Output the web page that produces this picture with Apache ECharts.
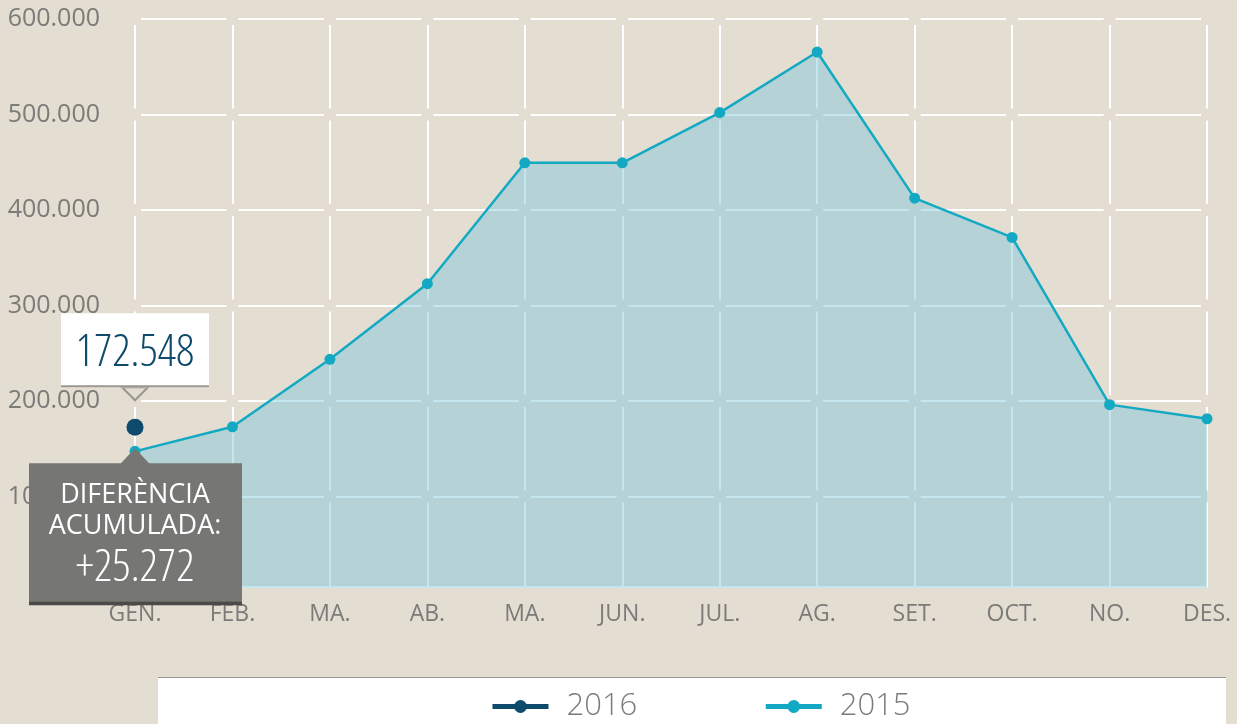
<!DOCTYPE html>
<html>
<head>
<meta charset="utf-8">
<script src="https://cdn.jsdelivr.net/npm/echarts@6/dist/echarts.min.js"></script>
<style>
html, body { margin: 0; padding: 0; background: #e3ddd2; }
#main { width: 1237px; height: 724px; }
</style>
</head>
<body>
<div id="main"></div>
<script>
var months = ['GEN.', 'FEB.', 'MA.', 'AB.', 'MA.', 'JUN.', 'JUL.', 'AG.', 'SET.', 'OCT.', 'NO.', 'DES.'];
var values2016 = [172548, null, null, null, null, null, null, null, null, null, null, null];
var values2015 = [147276, 173000, 243700, 322800, 449400, 449400, 502000, 565400, 412400, 371300, 196200, 181400];
var diffLabel = ['DIFERÈNCIA', 'ACUMULADA:'];
var diffValue = '+25.272';

function fmt(v) {
    return String(v).replace(/\B(?=(\d{3})+(?!\d))/g, '.');
}

var chart = echarts.init(document.getElementById('main'));
var gridLeft = 135, gridRight = 30, gridTop = 19, gridBottom = 132;
var colW = (1237 - gridLeft - gridRight) / (months.length - 1);
var rowH = (724 - gridTop - gridBottom) / 6;
var gap = 12;
var bg = '#e3ddd2';

chart.setOption({
    backgroundColor: bg,
    animation: false,
    grid: { left: gridLeft, right: gridRight, top: gridTop, bottom: gridBottom },
    legend: {
        left: 485,
        top: 686,
        itemWidth: 56,
        itemHeight: 16,
        itemGap: 126,
        lineStyle: { width: 5 },
        textStyle: { color: '#7b7b78', fontSize: 31, fontFamily: 'Open Sans', fontWeight: 300, padding: [0, 0, 0, 13] },
        data: ['2016', '2015']
    },
    xAxis: {
        type: 'category',
        data: months,
        boundaryGap: false,
        offset: -5,
        axisLine: { show: true, lineStyle: { color: '#ffffff', width: 2 } },
        axisTick: { show: false },
        axisLabel: { color: '#7b7b78', fontSize: 23, fontFamily: 'Open Sans', margin: 16 },
        splitLine: {
            show: true,
            lineStyle: { color: '#ffffff', width: 2, type: [rowH - gap, gap], dashOffset: rowH - gap / 2 }
        }
    },
    yAxis: {
        type: 'value',
        min: 0,
        max: 600000,
        interval: 100000,
        axisLine: { show: false },
        axisTick: { show: false },
        axisLabel: {
            color: '#7b7b78', fontSize: 25, fontFamily: 'Open Sans', margin: 35,
            formatter: function (v) { return v === 0 ? '' : fmt(v); }
        },
        splitLine: {
            show: true,
            lineStyle: { color: '#ffffff', width: 2, type: [colW - gap, gap], dashOffset: colW - gap / 2 }
        }
    },
    series: [
        {
            name: '2015',
            type: 'line',
            data: values2015,
            symbol: 'circle',
            symbolSize: 11,
            z: 2,
            itemStyle: { color: '#14a9c2' },
            lineStyle: { color: '#14a9c2', width: 2.5 },
            areaStyle: { color: 'rgba(124,199,219,0.45)', opacity: 1 }
        },
        {
            name: '2016',
            type: 'line',
            data: values2016,
            symbol: 'circle',
            symbolSize: 17,
            z: 3,
            itemStyle: { color: '#0d4a6b' },
            lineStyle: { color: '#0d4a6b', width: 2.5 }
        }
    ]
});

// callouts anchored to the first month
var p16 = chart.convertToPixel({ xAxisIndex: 0, yAxisIndex: 0 }, [0, values2016[0]]);
var p15 = chart.convertToPixel({ xAxisIndex: 0, yAxisIndex: 0 }, [0, values2015[0]]);
var cx = p16[0];
var topY = p16[1] - 40;
var grayY = p15[1] - 3;
var bottomY = 724 - gridBottom;

chart.setOption({
    graphic: [
        // trim the area under the lifted axis line
        { type: 'rect', z: 50, shape: { x: gridLeft - 2, y: bottomY - 4, width: 1237 - gridLeft - gridRight + 4, height: 6 }, style: { fill: bg } },
        // legend panel
        { type: 'rect', z: 1, shape: { x: 158, y: 677, width: 1068, height: 47 }, style: { fill: '#ffffff' } },
        { type: 'line', z: 1, shape: { x1: 158, y1: 677.5, x2: 1226, y2: 677.5 }, style: { stroke: '#9a978f', lineWidth: 1 } },
        // white value callout
        { type: 'polygon', z: 100, shape: { points: [[cx - 13, topY], [cx, topY + 13], [cx + 13, topY]] }, style: { fill: bg, stroke: '#9a978f', lineWidth: 2 } },
        { type: 'rect', z: 101, shape: { x: cx - 74, y: topY - 74, width: 148, height: 74 }, style: { fill: '#ffffff' } },
        { type: 'rect', z: 101, shape: { x: cx - 74, y: topY - 2, width: 148, height: 2 }, style: { fill: '#9a978f' } },
        { type: 'text', z: 102, x: cx, y: topY - 34, style: { text: fmt(values2016[0]), fill: '#0d4a6b', font: '300 condensed 45px "Open Sans"', align: 'center', verticalAlign: 'middle' } },
        // gray difference callout
        { type: 'polygon', z: 100, shape: { points: [[cx - 15, grayY + 16], [cx, grayY], [cx + 15, grayY + 16]] }, style: { fill: '#767674' } },
        { type: 'rect', z: 101, shape: { x: cx - 106, y: grayY + 15, width: 213, height: 138 }, style: { fill: '#767674' } },
        { type: 'rect', z: 101, shape: { x: cx - 106, y: grayY + 153, width: 213, height: 4 }, style: { fill: '#4a4a49' } },
        { type: 'text', z: 102, x: cx, y: grayY + 47, style: { text: diffLabel[0], fill: '#ffffff', fontSize: 27, fontFamily: 'Open Sans', align: 'center', verticalAlign: 'middle' } },
        { type: 'text', z: 102, x: cx, y: grayY + 78, style: { text: diffLabel[1], fill: '#ffffff', fontSize: 27, fontFamily: 'Open Sans', align: 'center', verticalAlign: 'middle' } },
        { type: 'text', z: 102, x: cx, y: grayY + 120, style: { text: diffValue, fill: '#ffffff', font: '300 condensed 45px "Open Sans"', align: 'center', verticalAlign: 'middle' } }
    ]
});
</script>
</body>
</html>
